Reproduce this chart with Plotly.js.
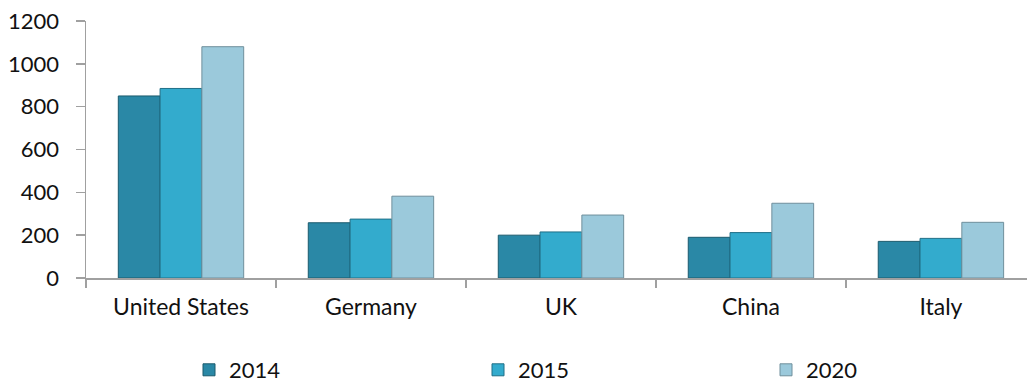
<!DOCTYPE html>
<html>
<head>
<meta charset="utf-8">
<script src="https://cdn.plot.ly/plotly-3.0.1.min.js"></script>
<style>
  html, body { margin: 0; padding: 0; background: #ffffff; }
  #chart { width: 1027px; height: 385px; }
</style>
</head>
<body>
<div id="chart"></div>
<script>
const countries = ["United States", "Germany", "UK", "China", "Italy"];
const seriesNames = ["2014", "2015", "2020"];
const values2014 = [850, 258, 200, 190, 171];
const values2015 = [885, 275, 215, 212, 185];
const values2020 = [1080, 382, 294, 349, 260];
const yTickVals = [0, 200, 400, 600, 800, 1000, 1200];

const colors = ["#2a88a6", "#33abcd", "#9bc9db"];
const lineColors = ["#1b5a6d", "#1f6f87", "#6f8f9c"];
const allValues = [values2014, values2015, values2020];
const legendIds = ["legend", "legend2", "legend3"];

const FONT = "Lato, 'Open Sans', sans-serif";

const traces = seriesNames.map((name, i) => ({
  type: "bar",
  name: name,
  x: countries,
  y: allValues[i],
  legend: legendIds[i],
  marker: {
    color: colors[i],
    line: { color: lineColors[i], width: 1 }
  },
  hoverinfo: "x+y+name"
}));

const legendXs = [189, 478, 766];
function legendDef(i) {
  return {
    orientation: "h",
    xref: "container", yref: "container",
    x: legendXs[i] / 1027, xanchor: "left",
    y: 15 / 385, yanchor: "middle",
    font: { family: FONT, size: 22, color: "#111111" },
    bgcolor: "rgba(0,0,0,0)",
    itemwidth: 30,
    traceorder: "normal"
  };
}

const layout = {
  width: 1027,
  height: 385,
  margin: { l: 86, r: 0, t: 21, b: 107, pad: 0 },
  paper_bgcolor: "#ffffff",
  plot_bgcolor: "#ffffff",
  barmode: "group",
  bargap: 0.34,
  bargroupgap: 0,
  showlegend: true,
  legend: legendDef(0),
  legend2: legendDef(1),
  legend3: legendDef(2),
  font: { family: FONT, size: 22, color: "#111111" },
  xaxis: {
    type: "category",
    range: [-0.5, 4.453],
    showline: true,
    linecolor: "#a0a0a0",
    linewidth: 1.5,
    ticks: "outside",
    tickson: "boundaries",
    ticklen: 8,
    tickcolor: "#a0a0a0",
    tickwidth: 1.5,
    ticklabelstandoff: 8,
    showgrid: false,
    zeroline: false,
    tickfont: { family: FONT, size: 23, color: "#111111" },
    fixedrange: true
  },
  yaxis: {
    range: [0, 1200],
    tickvals: yTickVals,
    ticktext: yTickVals.map(String),
    showline: true,
    linecolor: "#a0a0a0",
    linewidth: 1.5,
    ticks: "outside",
    ticklen: 9,
    tickcolor: "#a0a0a0",
    tickwidth: 1.5,
    ticklabelstandoff: 12,
    showgrid: false,
    zeroline: false,
    tickfont: { family: FONT, size: 22, color: "#111111" },
    fixedrange: true
  }
};

Plotly.newPlot("chart", traces, layout, { displayModeBar: false, staticPlot: true });
</script>
</body>
</html>
